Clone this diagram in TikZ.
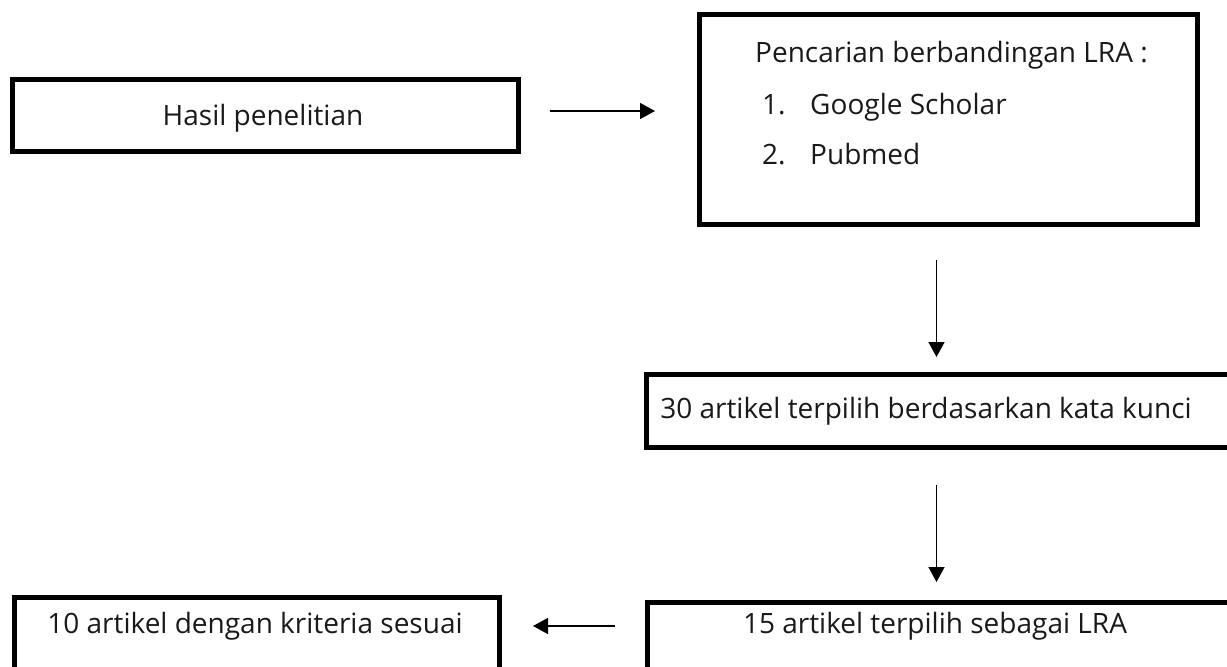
\documentclass[tikz,border=0pt]{standalone}
\usepackage{fontspec}
\setmainfont{Open Sans}
\usetikzlibrary{arrows.meta}
\begin{document}
\begin{tikzpicture}[x=1pt,y=-1pt,
  box/.style={draw=black, line width=5pt, anchor=north west, inner sep=0pt},
  txt/.style={inner sep=0pt, text=black!90, font=\fontsize{28}{32}\selectfont},
  arr/.style={line width=1.5pt, -{Triangle[length=15pt,width=16pt]}}]
\useasboundingbox (0,0) rectangle (1227,667);
\clip (0,0) rectangle (1227,667);
% boxes
\node[box, minimum width=506pt, minimum height=72pt] (b1) at (10,77) {};
\node[box, minimum width=498pt, minimum height=210pt] (b2) at (697,12) {};
\node[box, minimum width=620pt, minimum height=73pt] (b3) at (644,372) {};
\node[box, minimum width=620pt, minimum height=110pt] (b4) at (645,600) {};
\node[box, minimum width=485pt, minimum height=110pt] (b5) at (12,595) {};
% texts
\node[txt] (t1) at (263,118) {Hasil penelitian};
\node[txt, anchor=base west] (t2) at (755,62) {Pencarian berbandingan LRA :};
\node[txt, anchor=base west] (t2a) at (762,114) {1.};
\node[txt, anchor=base west] (t2b) at (810,114) {Google Scholar};
\node[txt, anchor=base west] (t2c) at (762,164) {2.};
\node[txt, anchor=base west] (t2d) at (810,164) {Pubmed};
\node[txt] (t3) at (926,411) {30 artikel terpilih berdasarkan kata kunci};
\node[txt] (t4) at (935,626) {15 artikel terpilih sebagai LRA};
\node[txt] (t5) at (255,626) {10 artikel dengan kriteria sesuai};
% arrows
\draw[arr, shorten <=29pt, shorten >=42pt] ([yshift=4.5pt]b1.east) -- ([yshift=4.5pt]b2.west |- b1.east);
\draw[arr, shorten <=33pt, shorten >=15pt] ([xshift=-12pt]b2.south) -- ([xshift=-12pt]b2.south |- b3.north);
\draw[arr, shorten <=35pt, shorten >=18pt] ([xshift=-12pt]b2.south |- b3.south) -- ([xshift=-12pt]b2.south |- b4.north);
\draw[arr, shorten <=30pt, shorten >=31pt] (b4.west |- t5) -- (b5.east |- t5);
\end{tikzpicture}
\end{document}
